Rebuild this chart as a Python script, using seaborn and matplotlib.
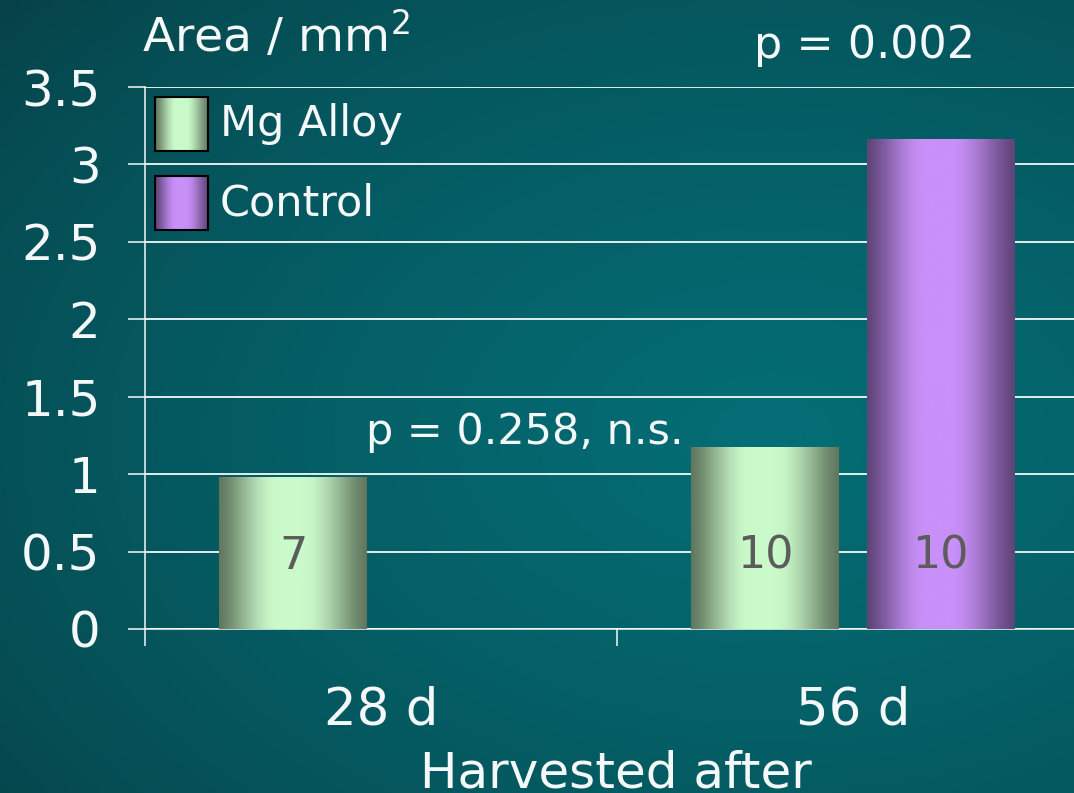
import numpy as np
import pandas as pd
import matplotlib
matplotlib.use("Agg")
import matplotlib.pyplot as plt
import seaborn as sns

# ---- data -------------------------------------------------------------
days = ["28 d", "56 d"]
groups = ["Mg Alloy", "Control"]
mg_area = [0.98, 1.17]
control_area = [np.nan, 3.16]
mg_n = [7, 10]
control_n = [None, 10]
p_labels = ["p = 0.258, n.s.", "p = 0.002"]
y_ticks = [0, 0.5, 1, 1.5, 2, 2.5, 3, 3.5]
y_tick_labels = ["0", "0.5", "1", "1.5", "2", "2.5", "3", "3.5"]

rows = []
for d, a in zip(days, mg_area):
    if not np.isnan(a):
        rows.append({"day": d, "group": "Mg Alloy", "area": a})
for d, a in zip(days, control_area):
    if not np.isnan(a):
        rows.append({"day": d, "group": "Control", "area": a})
df = pd.DataFrame(rows)
counts = {"Mg Alloy": mg_n, "Control": control_n}

# ---- styling ----------------------------------------------------------
sns.set_style("ticks")
plt.rcParams["font.family"] = ["DejaVu Sans"]
plt.rcParams["mathtext.fontset"] = "dejavusans"
WHITE = "#f4f8f8"

shades = {
    "Mg Alloy": (np.array([96, 118, 94]) / 255, np.array([202, 250, 202]) / 255),
    "Control": (np.array([94, 68, 120]) / 255, np.array([200, 144, 248]) / 255),
}


def cylinder(dark, light, n=256):
    t = np.linspace(0, 1, n)
    left = np.clip(t / 0.40, 0, 1)
    right = np.clip((1 - t) / 0.44, 0, 1)

    def ease(s):
        return 0.5 * np.sin(np.pi / 2 * s) + 0.5 * (1 - np.cos(np.pi * s)) / 2

    f = np.minimum(ease(left), ease(right))
    return dark[None, :] + (light - dark)[None, :] * f[:, None]


fig = plt.figure(figsize=(10.74, 7.93), dpi=100)

# teal backdrop
bg = fig.add_axes([0, 0, 1, 1], zorder=-10)
bg.axis("off")
yy, xx = np.mgrid[0:1:200j, 0:1:270j]
r = np.sqrt(((xx - 0.72) / 0.95) ** 2 + ((yy - 0.55) / 0.85) ** 2)
f = np.clip(1 - r, 0, 1) ** 0.7
dark_bg = np.array([6, 64, 70]) / 255
light_bg = np.array([4, 110, 118]) / 255
bg_img = dark_bg + (light_bg - dark_bg) * f[..., None]
bg.imshow(bg_img, extent=[0, 1, 0, 1], aspect="auto", interpolation="bicubic")
bg.set_xlim(0, 1)
bg.set_ylim(0, 1)

ax = fig.add_axes([145 / 1074, 1 - 629 / 793, 1 - 145 / 1074, (629 - 87) / 793])
ax.set_facecolor("none")

sns.barplot(data=df, x="day", y="area", hue="group", order=days,
            hue_order=groups, width=0.743, gap=0.156, errorbar=None,
            legend=False, ax=ax, linewidth=0)

# paint each bar with a shaded cylinder look, and put the sample size inside
for container, g in zip(ax.containers, groups):
    dark, light = shades[g]
    grad = cylinder(dark, light)
    for bar in container:
        h = bar.get_height()
        if not np.isfinite(h) or h <= 0:
            continue
        x0 = bar.get_x()
        w = bar.get_width()
        xc = x0 + w / 2
        bar.set_alpha(0)
        ax.imshow(grad[None, :, :], extent=[x0, x0 + w, 0, h], aspect="auto",
                  interpolation="bilinear", zorder=3)
        n = counts[g][int(round(xc))]
        if n is not None:
            ax.text(xc, 0.47, str(n), ha="center", va="center", fontsize=32,
                    color="#5c5c5c", zorder=4)

# significance notes
ax.text(0.305, 1.27, p_labels[0], ha="center", va="center", fontsize=31,
        color=WHITE, zorder=4)
ax.text(1.025, 3.765, p_labels[1], ha="center", va="center", fontsize=32,
        color=WHITE, clip_on=False, zorder=4)

# axes
ax.set_yticks(y_ticks)
ax.set_yticklabels(y_tick_labels)
ax.set_xticks([0, 1])
ax.set_xticklabels(days)
ax.set_xticks([-0.5, 0.5, 1.5], minor=True)
ax.set_xlim(-0.5, -0.5 + (1074 - 145) / 472)
ax.set_ylim(0, 3.5)
ax.set_xlabel("")
ax.set_ylabel("")
ax.yaxis.grid(True, color=WHITE, linewidth=1.3)
ax.xaxis.grid(False)
ax.set_axisbelow(True)
for s in ["top", "right"]:
    ax.spines[s].set_visible(False)
for s in ["left", "bottom"]:
    ax.spines[s].set_color(WHITE)
    ax.spines[s].set_linewidth(1.1)
ax.tick_params(axis="y", which="major", length=12, width=1.1, color=WHITE,
               labelsize=36, labelcolor=WHITE, pad=20)
ax.tick_params(axis="x", which="major", length=0, labelsize=37,
               labelcolor=WHITE, pad=41)
ax.tick_params(axis="x", which="minor", length=12, width=1.1, color=WHITE)

# legend swatches
for g, top in zip(groups, [97, 176]):
    dark, light = shades[g]
    sw = fig.add_axes([155 / 1074, 1 - (top + 54) / 793, 53 / 1074, 54 / 793])
    sw.imshow(cylinder(dark, light)[None, :, :], aspect="auto",
              interpolation="bilinear", extent=[0, 1, 0, 1])
    sw.set_xticks([])
    sw.set_yticks([])
    for s in sw.spines.values():
        s.set_color("black")
        s.set_linewidth(1.5)
    fig.text(220 / 1074, 1 - (top + 27) / 793, g, ha="left", va="center",
             fontsize=31, color=WHITE)

fig.text(142 / 1074, 1 - 52 / 793, r"Area / mm$^{2}$", ha="left", va="baseline",
         fontsize=34, color=WHITE)
fig.text(616 / 1074, 1 - 787 / 793, "Harvested after", ha="center",
         va="baseline", fontsize=36, color=WHITE)

fig.savefig("out.png", dpi=100)
